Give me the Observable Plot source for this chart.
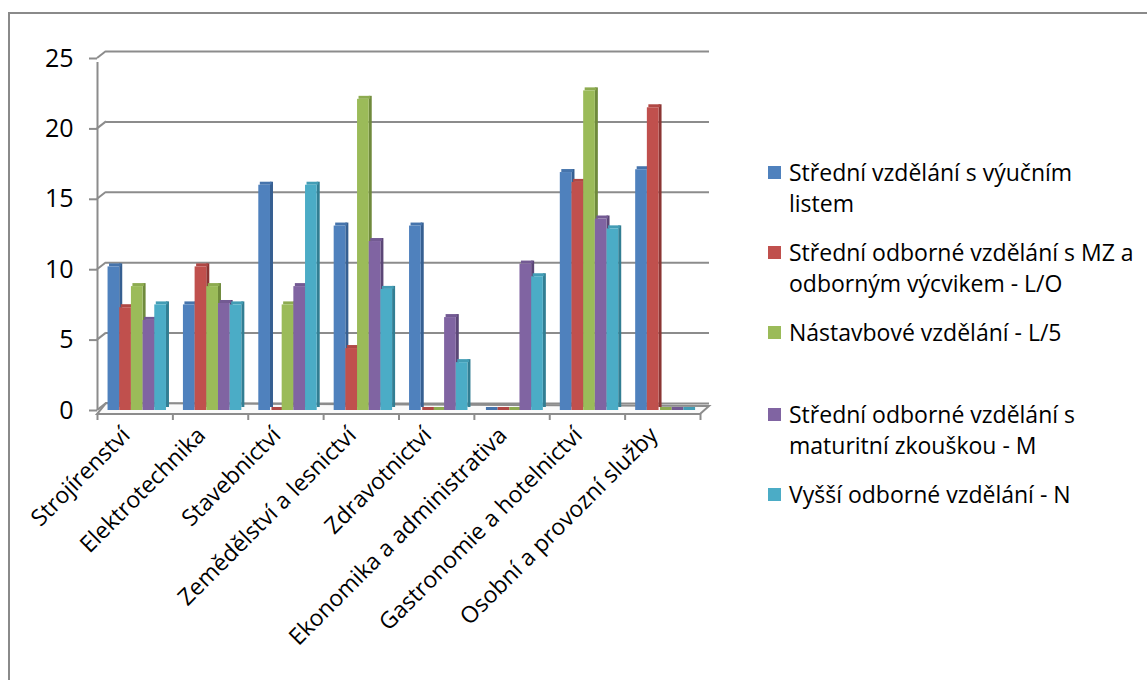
<!DOCTYPE html>
<html>
<head>
<meta charset="utf-8">
<script src="https://cdn.jsdelivr.net/npm/d3@7"></script>
<script src="https://cdn.jsdelivr.net/npm/@observablehq/plot@0.6"></script>
<style>
  html, body { margin: 0; padding: 0; background: #fff; }
  body { width: 1147px; height: 680px; position: relative; overflow: hidden; font-family: "Open Sans", sans-serif; }
  #frame { position: absolute; left: 8px; top: 12px; width: 1200px; height: 800px; border-left: 2px solid #8a8a8a; border-top: 2px solid #8a8a8a; }
  #chart { position: absolute; left: 0; top: 0; }
  .lg { position: absolute; left: 768px; font-size: 23px; line-height: 31px; color: #000; white-space: nowrap; }
  .lg i { position: absolute; left: 0; top: 9px; width: 13px; height: 13px; }
  .lg span { position: absolute; left: 21px; top: 0; }
</style>
</head>
<body>
<div id="frame"></div>
<div id="chart"></div>
<div id="legend"></div>
<script>
// ---- data ----
const categories = ["Strojírenství", "Elektrotechnika", "Stavebnictví", "Zemědělství a lesnictví", "Zdravotnictví", "Ekonomika a administrativa", "Gastronomie a hotelnictví", "Osobní a provozní služby"];
const seriesNames = ["Střední vzdělání s výučním listem", "Střední odborné vzdělání s MZ a odborným výcvikem - L/O", "Nástavbové vzdělání - L/5", "Střední odborné vzdělání s maturitní zkouškou - M", "Vyšší odborné vzdělání - N"];
const legendLines = [["Střední vzdělání s výučním", "listem"], ["Střední odborné vzdělání s MZ a", "odborným výcvikem - L/O"], ["Nástavbové vzdělání - L/5"], ["Střední odborné vzdělání s", "maturitní zkouškou - M"], ["Vyšší odborné vzdělání - N"]];
const vyucni   = [10.2, 7.5, 16.0, 13.1, 13.1, 0, 16.9, 17.1];
const mzLO     = [7.3, 10.2, 0, 4.4, 0, 0, 16.2, 21.5];
const nastavba = [8.8, 8.8, 7.5, 22.1, 0, 0, 22.7, 0];
const maturita = [6.4, 7.6, 8.8, 12.0, 6.6, 10.4, 13.6, 0];
const vyssi    = [7.5, 7.5, 16.0, 8.6, 3.4, 9.5, 12.9, 0];
const yTicks = [0, 5, 10, 15, 20, 25];

// ---- styles ----
const colors = ["#4F81BD", "#C0504D", "#9BBB59", "#8064A2", "#4BACC6"];
const sideColors = ["#365F91", "#8B3533", "#6F8A3C", "#5B4676", "#327E93"];
const topColors = ["#4674AC", "#B04845", "#8DAB50", "#735A93", "#439DB5"];
const grid = "#8c8c8c";
const DX = 9, DY = -7;         // depth offset of back wall
const pad = 0.14, w = 0.155;   // bar placement inside a category band

const seriesValues = [vyucni, mzLO, nastavba, maturita, vyssi];
const rows = [];
categories.forEach((c, i) => seriesValues.forEach((vals, s) => rows.push({i, s, c, v: vals[i]})));
const X1 = d => d.i + pad + d.s * w;
const X2 = d => d.i + pad + (d.s + 1) * w;

// 3D connectors and floor outline drawn from the scales
function depthFrame(index, scales) {
  const g = d3.create("svg:g").attr("stroke", grid).attr("stroke-width", 2).attr("fill", "none");
  const x0 = scales.x(0), x8 = scales.x(categories.length), y0 = scales.y(0);
  for (const t of yTicks) {
    const y = scales.y(t);
    g.append("line").attr("x1", x0).attr("y1", y).attr("x2", x0 + DX).attr("y2", y + DY);
  }
  g.append("path").attr("fill", "#fafafa")
    .attr("d", `M${x0},${y0 + 4}L${x8},${y0 + 4}L${x8 + DX},${y0 + 4 + DY - 1}L${x0 + DX},${y0 + DY}Z`);
  return g.node();
}

const plot = Plot.plot({
  width: 740,
  height: 680,
  marginLeft: 97,
  marginRight: 40,
  marginTop: 58,
  marginBottom: 270,
  style: {fontFamily: "'Open Sans', sans-serif", color: "#000", background: "transparent"},
  x: {domain: [0, categories.length], axis: null},
  y: {domain: [0, 25], axis: null},
  marks: [
    Plot.ruleY(yTicks, {x1: 0, x2: categories.length, dx: DX, dy: DY, stroke: grid, strokeWidth: 2}),
    depthFrame,
    Plot.ruleX([0], {y1: 0, y2: 25, stroke: grid, strokeWidth: 2, insetBottom: -4}),
    Plot.axisY({ticks: yTicks, label: null, tickSize: 8, tickPadding: 16, fontSize: 25, stroke: grid, strokeWidth: 2, tickFormat: d => String(d)}),
    Plot.rectY(rows, {x1: X2, x2: X2, y1: 0, y2: "v", insetRight: -3, dy: -3, fill: d => sideColors[d.s]}),
    Plot.rectY(rows, {x1: X1, x2: X2, y1: "v", y2: "v", insetTop: -3, dx: 1.5, fill: d => topColors[d.s]}),
    Plot.rectY(rows, {x1: X1, x2: X2, y1: 0, y2: "v", fill: d => colors[d.s]}),
    Plot.axisX({ticks: d3.range(categories.length + 1), label: null, tickSize: 6, tickFormat: () => "", stroke: grid, strokeWidth: 2, dy: 4}),
    Plot.axisX({ticks: d3.range(categories.length).map(i => i + 0.5), label: null, tickSize: 0, tickRotate: -45, tickPadding: 21, fontSize: 23, dx: -9, tickFormat: d => categories[Math.floor(d)]})
  ]
});
document.getElementById("chart").appendChild(plot);

// legend
const legendTops = [157, 237, 317, 399, 479];
const legend = document.getElementById("legend");
seriesNames.forEach((name, s) => {
  const div = document.createElement("div");
  div.className = "lg";
  div.style.top = legendTops[s] + "px";
  div.title = name;
  const sw = document.createElement("i");
  sw.style.background = colors[s];
  const sp = document.createElement("span");
  sp.innerHTML = legendLines[s].join("<br>");
  div.appendChild(sw); div.appendChild(sp);
  legend.appendChild(div);
});
</script>
</body>
</html>
